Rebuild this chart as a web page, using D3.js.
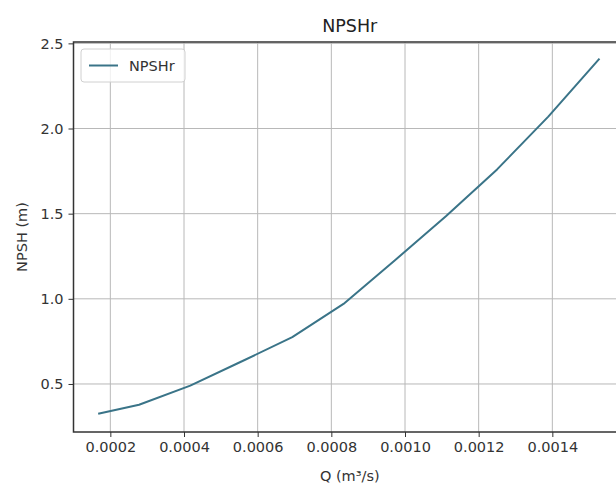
<!DOCTYPE html>
<html>
<head>
<meta charset="utf-8">
<script src="https://cdn.jsdelivr.net/npm/d3@7"></script>
<style>
  body { margin: 0; background: #fff; }
  svg { display: block; font-family: "DejaVu Sans", sans-serif; }
</style>
</head>
<body>
<script>
// flow rate Q (m3/s) and required NPSH (m)
var flowQ = [0.000167, 0.000278, 0.000417, 0.000556, 0.000694, 0.000833,
             0.000972, 0.001111, 0.00125, 0.001389, 0.001528];
var npshR = [0.325, 0.378, 0.49, 0.632, 0.775, 0.97, 1.225, 1.485, 1.76, 2.07, 2.41];
var xTicks = [0.0002, 0.0004, 0.0006, 0.0008, 0.0010, 0.0012, 0.0014];
var yTicks = [0.5, 1.0, 1.5, 2.0, 2.5];
var seriesName = "NPSHr";

var W = 616, H = 491;
var plotL = 73.5, plotT = 42, plotB = 432, plotR = 626;
var lineColor = "#3a7488";

var svg = d3.select("body").append("svg")
    .attr("width", W)
    .attr("height", H);

var x = d3.scaleLinear().domain([0.0001, 0.0016]).range([plotL, plotR]);
var y = d3.scaleLinear().domain([0.218, 2.508]).range([plotB, plotT]);

// grid
svg.append("g")
    .selectAll("line")
    .data(xTicks)
    .enter().append("line")
    .attr("x1", function (d) { return x(d); })
    .attr("x2", function (d) { return x(d); })
    .attr("y1", plotT)
    .attr("y2", plotB)
    .attr("stroke", "#b8b8b8")
    .attr("stroke-width", 1);
svg.append("g")
    .selectAll("line")
    .data(yTicks)
    .enter().append("line")
    .attr("x1", plotL)
    .attr("x2", plotR)
    .attr("y1", function (d) { return y(d); })
    .attr("y2", function (d) { return y(d); })
    .attr("stroke", "#b8b8b8")
    .attr("stroke-width", 1);

// axes
var xAxis = svg.append("g")
    .attr("transform", "translate(0," + plotB + ")")
    .call(d3.axisBottom(x).tickValues(xTicks).tickFormat(d3.format(".4f")).tickSize(5).tickPadding(5).tickSizeOuter(0));
var yAxis = svg.append("g")
    .attr("transform", "translate(" + plotL + ",0)")
    .call(d3.axisLeft(y).tickValues(yTicks).tickFormat(d3.format(".1f")).tickSize(5).tickPadding(5).tickSizeOuter(0));
[xAxis, yAxis].forEach(function (a) {
    a.select(".domain").remove();
    a.selectAll("text").attr("font-size", 14.5).attr("fill", "#333").attr("font-family", "DejaVu Sans, sans-serif");
    a.selectAll("line").attr("stroke", "#333");
});

// frame
svg.append("rect")
    .attr("x", plotL)
    .attr("y", plotT)
    .attr("width", plotR - plotL)
    .attr("height", plotB - plotT)
    .attr("fill", "none")
    .attr("stroke", "#333")
    .attr("stroke-width", 1.5);

// curve
svg.append("path")
    .datum(flowQ.map(function (q, i) { return [q, npshR[i]]; }))
    .attr("fill", "none")
    .attr("stroke", lineColor)
    .attr("stroke-width", 2)
    .attr("stroke-linejoin", "round")
    .attr("d", d3.line()
        .x(function (d) { return x(d[0]); })
        .y(function (d) { return y(d[1]); }));

// legend
var lg = svg.append("g").attr("transform", "translate(81,49)");
lg.append("rect")
    .attr("width", 104)
    .attr("height", 33)
    .attr("rx", 3)
    .attr("fill", "#fff")
    .attr("fill-opacity", 0.8)
    .attr("stroke", "#d0d0d0");
lg.append("line")
    .attr("x1", 8).attr("x2", 37)
    .attr("y1", 16.5).attr("y2", 16.5)
    .attr("stroke", lineColor)
    .attr("stroke-width", 2);
lg.append("text")
    .attr("x", 48)
    .attr("y", 22)
    .attr("font-size", 14.5)
    .attr("fill", "#333")
    .text(seriesName);

// titles
svg.append("text")
    .attr("x", (plotL + plotR) / 2)
    .attr("y", 32)
    .attr("text-anchor", "middle")
    .attr("font-size", 17.5)
    .attr("fill", "#222")
    .text("NPSHr");
svg.append("text")
    .attr("x", (plotL + plotR) / 2)
    .attr("y", 481)
    .attr("text-anchor", "middle")
    .attr("font-size", 14.5)
    .attr("fill", "#333")
    .text("Q (m³/s)");
svg.append("text")
    .attr("transform", "translate(27," + (plotT + plotB) / 2 + ") rotate(-90)")
    .attr("text-anchor", "middle")
    .attr("font-size", 14.5)
    .attr("fill", "#333")
    .text("NPSH (m)");
</script>
</body>
</html>
